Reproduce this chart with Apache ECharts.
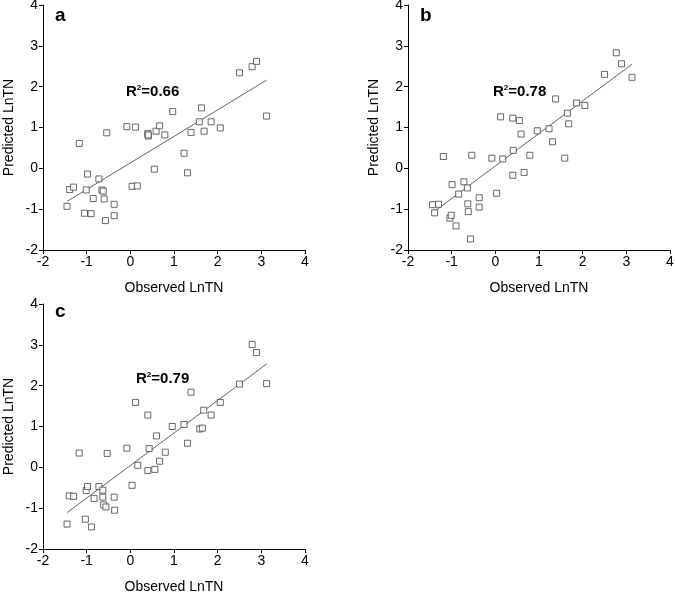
<!DOCTYPE html>
<html>
<head>
<meta charset="utf-8">
<script src="https://cdn.jsdelivr.net/npm/echarts@6/dist/echarts.min.js"></script>
<style>html,body{margin:0;padding:0;background:#fff}#c{width:675px;height:593px}</style>
</head>
<body>
<div id="c"></div>
<script>
// Panel a
var obsA = [-1.45,-1.39,-1.30,-1.17,-1.05,-1.01,-0.98,-0.90,-0.85,-0.72,-0.65,-0.62,-0.60,-0.57,-0.54,-0.37,-0.37,-0.08,0.04,0.12,0.16,0.40,0.41,0.41,0.55,0.59,0.67,0.79,0.97,1.23,1.31,1.39,1.58,1.63,1.69,1.85,2.06,2.50,2.79,2.89,3.12];
var predA = [-0.93,-0.52,-0.46,0.61,-1.10,-0.53,-0.14,-1.11,-0.74,-0.26,-0.53,-0.56,-0.75,-1.28,0.87,-0.88,-1.16,1.02,-0.44,1.01,-0.43,0.85,0.79,0.82,-0.02,0.91,1.04,0.82,1.39,0.37,-0.11,0.88,1.14,1.48,0.91,1.14,0.99,2.34,2.49,2.62,1.28];
var fitA = [[-1.45,-0.81],[3.12,2.16]];
// Panel b
var obsB = [-1.44,-1.39,-1.30,-1.19,-1.04,-1.01,-0.99,-0.90,-0.84,-0.72,-0.64,-0.63,-0.62,-0.57,-0.54,-0.37,-0.37,-0.08,0.03,0.12,0.17,0.40,0.40,0.41,0.55,0.59,0.66,0.79,0.96,1.23,1.31,1.38,1.59,1.65,1.68,1.86,2.05,2.50,2.77,2.89,3.13];
var predB = [-0.89,-1.09,-0.88,0.29,-1.22,-1.15,-0.40,-1.41,-0.63,-0.33,-0.48,-0.87,-1.06,-1.73,0.32,-0.72,-0.95,0.25,-0.61,1.26,0.23,1.23,-0.17,0.44,1.17,0.84,-0.10,0.32,0.92,0.97,0.65,1.70,0.25,1.35,1.09,1.60,1.54,2.30,2.83,2.56,2.23];
var fitB = [[-1.39,-1.05],[3.13,2.55]];
// Panel c
var obsC = [-1.45,-1.40,-1.30,-1.17,-1.03,-1.01,-0.98,-0.89,-0.83,-0.72,-0.63,-0.63,-0.61,-0.56,-0.53,-0.37,-0.36,-0.08,0.04,0.12,0.17,0.40,0.40,0.43,0.56,0.60,0.67,0.80,0.96,1.23,1.31,1.39,1.59,1.65,1.68,1.85,2.06,2.50,2.79,2.89,3.12];
var predC = [-1.39,-0.70,-0.71,0.35,-1.27,-0.57,-0.47,-1.46,-0.76,-0.47,-0.56,-0.73,-0.92,-0.97,0.34,-0.73,-1.05,0.47,-0.44,1.59,0.05,1.28,-0.08,0.46,-0.05,0.77,0.15,0.37,1.00,1.05,0.59,1.84,0.94,0.96,1.40,1.28,1.59,2.04,3.01,2.81,2.05];
var fitC = [[-1.45,-1.11],[3.12,2.53]];

var panelLabels = ['a','b','c'];
var r2Labels = ['0.66','0.78','0.79'];
var axisTicks = [-2,-1,0,1,2,3,4];
var xTitle = 'Observed LnTN';
var yTitle = 'Predicted LnTN';

function zip(xs, ys){ return xs.map(function(x,i){ return [x, ys[i]]; }); }

var FONT = 'Liberation Sans, Arial, sans-serif';
var grids = [
  {left:43, top:5, width:262, height:245},
  {left:408, top:5, width:262, height:245},
  {left:43, top:304, width:262, height:245}
];
var labelPos = [[55,6],[420,6],[55,302]];
var r2Pos = [[126,84],[493,84],[136,371]];

function axisCommon(){
  return {
    type:'value', min:axisTicks[0], max:axisTicks[axisTicks.length-1], interval:1,
    axisLine:{show:true, onZero:false, lineStyle:{color:'#000', width:1}},
    axisTick:{show:true, length:4, lineStyle:{color:'#000'}},
    axisLabel:{color:'#000', fontSize:14, fontFamily:FONT, margin:5},
    splitLine:{show:false},
    nameTextStyle:{color:'#000', fontSize:14, fontFamily:FONT}
  };
}

var xAxes = [], yAxes = [], series = [], titles = [];
var pts = [zip(obsA,predA), zip(obsB,predB), zip(obsC,predC)];
var fits = [fitA, fitB, fitC];
for (var i=0;i<3;i++){
  var g = grids[i];
  g.outerBoundsMode = 'none';
  var xa = axisCommon(); xa.gridIndex=i; xa.name=xTitle; xa.nameLocation='middle'; xa.nameGap=31;
  var ya = axisCommon(); ya.gridIndex=i; ya.name=yTitle; ya.nameLocation='middle'; ya.nameGap=27;
  xAxes.push(xa); yAxes.push(ya);
  series.push({type:'line', xAxisIndex:i, yAxisIndex:i, data:fits[i], symbol:'none', silent:true,
    lineStyle:{color:'#666', width:1}, z:1});
  series.push({type:'scatter', xAxisIndex:i, yAxisIndex:i, data:pts[i], symbol:'rect', symbolSize:6,
    itemStyle:{color:'#fff', borderColor:'#444', borderWidth:1}, z:2});
  titles.push({text:panelLabels[i], left:labelPos[i][0], top:labelPos[i][1], padding:0,
    textStyle:{fontSize:19, fontWeight:'bold', color:'#000', fontFamily:FONT}});
  titles.push({text:'{b|R}{s|2}{b|=' + r2Labels[i] + '}', left:r2Pos[i][0], top:r2Pos[i][1], padding:0,
    textStyle:{rich:{
      b:{fontSize:15, fontWeight:'bold', color:'#000', fontFamily:FONT, verticalAlign:'bottom'},
      s:{fontSize:8, fontWeight:'bold', color:'#000', fontFamily:FONT, verticalAlign:'top', padding:[0,0,7,0]}
    }}});
}

var chart = echarts.init(document.getElementById('c'));
chart.setOption({
  animation:false,
  backgroundColor:'#fff',
  title:titles,
  grid:grids,
  xAxis:xAxes,
  yAxis:yAxes,
  series:series
});
</script>
</body>
</html>
